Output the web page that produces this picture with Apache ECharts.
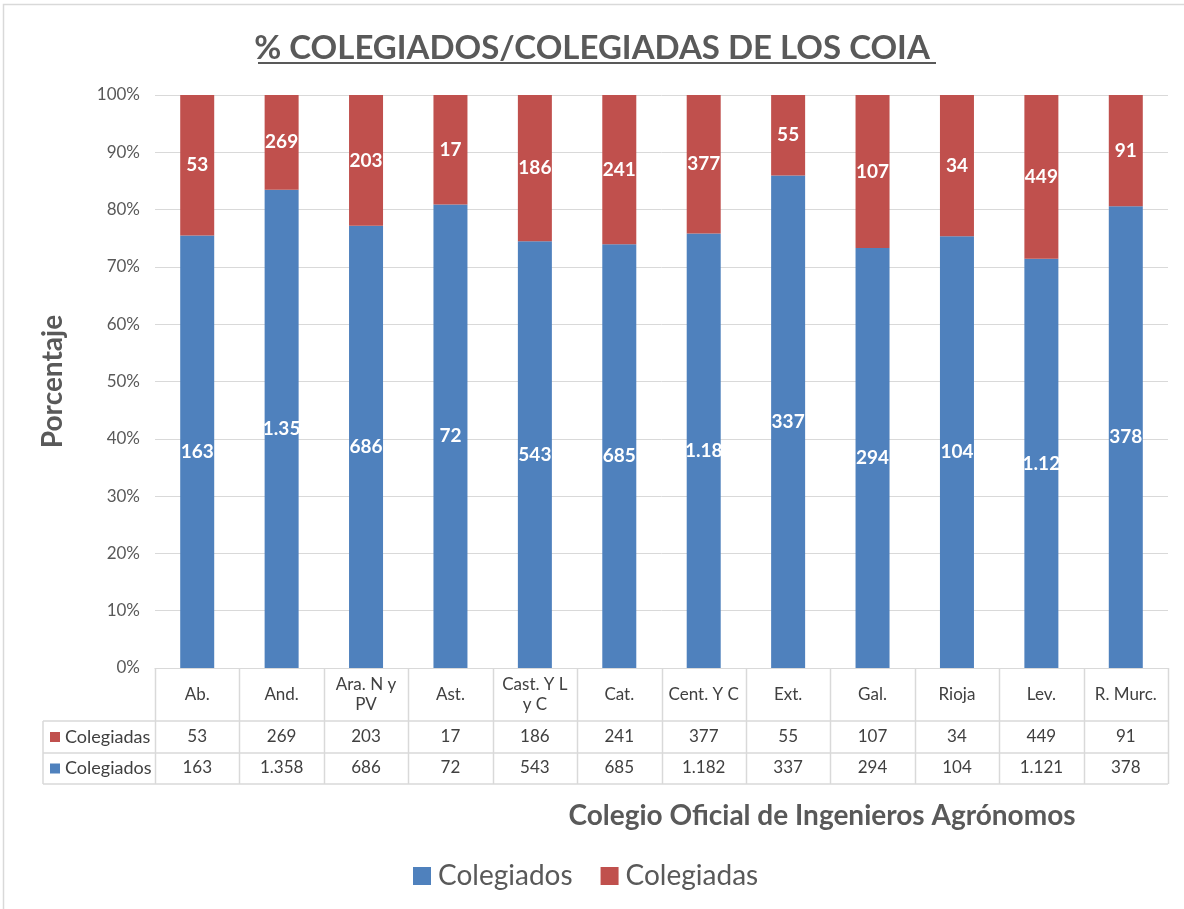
<!DOCTYPE html>
<html>
<head>
<meta charset="utf-8">
<script src="https://cdn.jsdelivr.net/npm/echarts@6/dist/echarts.min.js"></script>
<style>
  html, body { margin: 0; background: #fff; }
  #chart { width: 1184px; height: 909px; }
</style>
</head>
<body>
<div id="chart"></div>
<script>
const categories = ['Ab.', 'And.', 'Ara. N y\nPV', 'Ast.', 'Cast. Y L\ny C', 'Cat.', 'Cent. Y C', 'Ext.', 'Gal.', 'Rioja', 'Lev.', 'R. Murc.']
const colegiadas = [53, 269, 203, 17, 186, 241, 377, 55, 107, 34, 449, 91]
const colegiados = [163, 1358, 686, 72, 543, 685, 1182, 337, 294, 104, 1121, 378]

const blue = '#4F81BD'
const red = '#C0504D'
const textColor = '#595959'
const lineColor = '#d9d9d9'
const font = 'Lato, "Open Sans", sans-serif'

// miles con punto, como en el original
function fmt(n) {
  return String(n).replace(/\B(?=(\d{3})+(?!\d))/g, '.')
}

const totals = colegiados.map((v, i) => v + colegiadas[i])
const pctDos = colegiados.map((v, i) => v / totals[i] * 100)
const pctDas = colegiadas.map((v, i) => v / totals[i] * 100)

const chart = echarts.init(document.getElementById('chart'))

const barLabel = (raw) => ({
  show: true,
  position: 'inside',
  color: '#fff',
  fontWeight: 'bold',
  fontSize: 19,
  fontFamily: font,
  width: 42,
  overflow: 'truncate',
  ellipsis: '',
  formatter: p => fmt(raw[p.dataIndex]),
})

chart.setOption({
  animation: false,
  textStyle: { fontFamily: font },
  title: {
    text: '% COLEGIADOS/COLEGIADAS DE LOS COIA',
    left: 'center',
    top: 27,
    textStyle: { color: textColor, fontSize: 33, fontWeight: 'bold', fontFamily: font },
  },
  legend: {
    data: ['Colegiados', 'Colegiadas'],
    left: 408,
    top: 857,
    itemWidth: 18,
    itemHeight: 18,
    itemGap: 28,
    icon: 'rect',
    textStyle: { color: textColor, fontSize: 28, fontFamily: font, padding: [0, 0, 0, 2] },
  },
  grid: { left: 155, right: 16, top: 95, bottom: 241 },
  xAxis: [
    {
      type: 'category',
      data: categories,
      axisLine: { lineStyle: { color: lineColor } },
      axisTick: { show: false },
      axisLabel: { interval: 0, color: '#404040', fontSize: 17, margin: 27, verticalAlign: 'middle', lineHeight: 20 },
    },
    {
      type: 'category',
      data: colegiadas.map(fmt),
      position: 'bottom',
      axisLine: { show: false },
      axisTick: { show: false },
      axisLabel: { interval: 0, color: '#404040', fontSize: 17, margin: 69, verticalAlign: 'middle' },
    },
    {
      type: 'category',
      data: colegiados.map(fmt),
      position: 'bottom',
      axisLine: { show: false },
      axisTick: { show: false },
      axisLabel: { interval: 0, color: '#404040', fontSize: 17, margin: 100, verticalAlign: 'middle' },
    },
  ],
  yAxis: {
    type: 'value',
    min: 0,
    max: 100,
    interval: 10,
    name: 'Porcentaje',
    nameLocation: 'middle',
    nameGap: 88,
    nameTextStyle: { color: textColor, fontSize: 28, fontWeight: 'bold', fontFamily: font },
    axisLine: { show: false },
    axisTick: { show: false },
    axisLabel: { color: textColor, fontSize: 17, margin: 15, formatter: '{value}%' },
    splitLine: { lineStyle: { color: lineColor } },
  },
  series: [
    {
      name: 'Colegiados',
      type: 'bar',
      stack: 'total',
      barWidth: 34,
      data: pctDos,
      itemStyle: { color: blue },
      label: barLabel(colegiados),
    },
    {
      name: 'Colegiadas',
      type: 'bar',
      stack: 'total',
      barWidth: 34,
      data: pctDas,
      itemStyle: { color: red },
      label: barLabel(colegiadas),
    },
  ],
})

// tabla de datos bajo el eje, a partir de las posiciones del propio eje
function drawTable() {
  const c0 = chart.convertToPixel({ xAxisIndex: 0 }, 0)
  const c1 = chart.convertToPixel({ xAxisIndex: 0 }, 1)
  const step = c1 - c0
  const xl = c0 - step / 2
  const xr = xl + step * categories.length
  const y0 = chart.convertToPixel({ yAxisIndex: 0 }, 0)
  const rows = [y0 + 53, y0 + 85, y0 + 116]
  const tableLeft = 43
  const g = []
  const line = (x1, y1, x2, y2) => ({
    type: 'line', silent: true,
    shape: { x1, y1, x2, y2 },
    style: { stroke: lineColor, lineWidth: 1.5 },
  })
  for (let k = 0; k <= categories.length; k++) {
    const x = Math.round(xl + k * step) + 0.5
    g.push(line(x, y0, x, rows[2]))
  }
  g.push(line(tableLeft, rows[0], tableLeft, rows[2]))
  rows.forEach(y => g.push(line(tableLeft, y, xr, y)))
  const names = [['Colegiadas', red, (rows[0] + rows[1]) / 2], ['Colegiados', blue, (rows[1] + rows[2]) / 2]]
  names.forEach(([n, col, y]) => {
    g.push({ type: 'rect', silent: true, shape: { x: 50, y: y - 5, width: 10, height: 10 }, style: { fill: col } })
    g.push({ type: 'text', silent: true, x: 65, y, style: { text: n, fill: '#404040', font: '18px ' + font, verticalAlign: 'middle' } })
  })
  // subrayado del título y nombre del eje X
  g.push({ type: 'line', silent: true, shape: { x1: 258, y1: 63, x2: 936, y2: 63 }, style: { stroke: textColor, lineWidth: 2 } })
  g.push({
    type: 'text', silent: true, x: 822, y: 816,
    style: { text: 'Colegio Oficial de Ingenieros Agrónomos', fill: textColor, font: 'bold 28px ' + font, align: 'center', verticalAlign: 'middle' },
  })
  // marco del gráfico
  g.push({ type: 'rect', silent: true, shape: { x: 3.5, y: 4.5, width: 1200, height: 920 }, style: { fill: 'none', stroke: lineColor, lineWidth: 1.5 } })
  chart.setOption({ graphic: g })
}
drawTable()
</script>
</body>
</html>
